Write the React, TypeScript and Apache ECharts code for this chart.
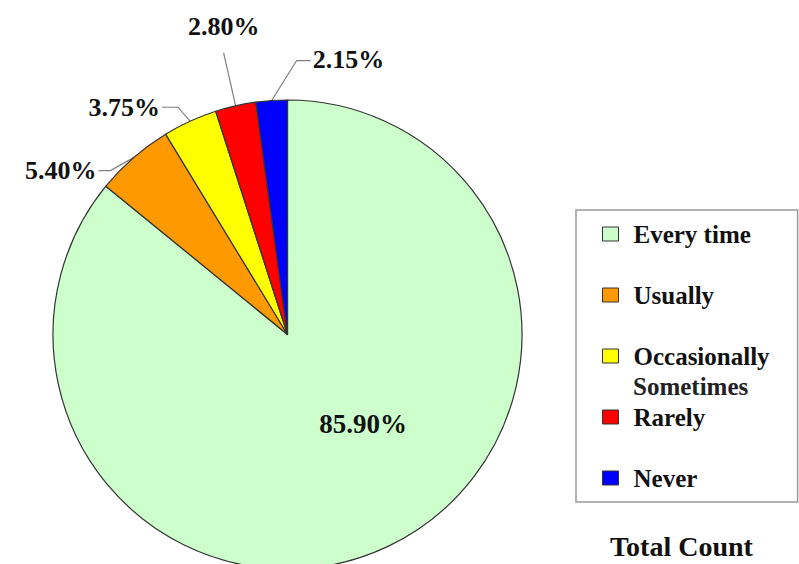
import React, { useEffect, useRef } from 'react';
import * as echarts from 'echarts';

// ---- data ----
const categories = ['Every time', 'Usually', 'Occasionally', 'Rarely', 'Never'];
const percentages = [85.9, 5.4, 3.75, 2.8, 2.15];
const sliceColors = ['#CCFFCC', '#FF9900', '#FFFF00', '#FF0000', '#0000FF'];
const legendSecondLine = 'Sometimes';
const footerTitle = 'Total Count';

const FONT = '"Liberation Serif", "Times New Roman", serif';

// label placement relative to the slice anchor the library computes
type Placement = { elbow: number[]; end: number[]; label: number[]; align: string };
const outsidePlacement: Record<number, Placement> = {
  1: { elbow: [-23, 13], end: [-35, 13], label: [-37, 13], align: 'right' },
  2: { elbow: [-12, -14], end: [-28, -14], label: [-30, -14], align: 'right' },
  3: { elbow: [-12, -53], end: [-12, -53], label: [-12, -79], align: 'center' },
  4: { elbow: [25, -40], end: [39, -40], label: [41, -41], align: 'left' },
};
const insideShift = [24, -19];

export default function App() {
  const ref = useRef<HTMLDivElement>(null);

  useEffect(() => {
    if (!ref.current) return;
    const chart = echarts.init(ref.current, undefined, { renderer: 'svg' });

    const pieData = categories.map((name, i) => ({
      name,
      value: percentages[i],
      itemStyle: { color: sliceColors[i] },
      label:
        i === 0
          ? { position: 'inside', fontSize: 27 }
          : { position: 'outside' },
      labelLine: { show: i !== 0 },
    }));

    const option: any = {
      animation: false,
      backgroundColor: '#ffffff',
      title: {
        text: footerTitle,
        left: 610,
        top: 532,
        padding: 0,
        textStyle: { fontFamily: FONT, fontWeight: 'bold', fontSize: 28, color: '#111' },
      },
      legend: {
        orient: 'vertical',
        left: 576,
        top: 210,
        padding: [11, 28, 11, 26],
        itemGap: 35,
        itemWidth: 16,
        itemHeight: 14,
        icon: 'rect',
        selectedMode: false,
        borderColor: '#9a9a9a',
        borderWidth: 1.5,
        backgroundColor: '#ffffff',
        textStyle: {
          fontFamily: FONT,
          fontWeight: 'bold',
          fontSize: 25,
          color: '#111',
          lineHeight: 26,
          padding: [0, 0, 0, 10],
        },
        itemStyle: { borderColor: '#333', borderWidth: 1 },
        data: categories,
      },
      graphic: [
        {
          type: 'text',
          z: 100,
          left: 633,
          top: 374,
          style: {
            text: legendSecondLine,
            font: 'bold 25px "Liberation Serif", "Times New Roman", serif',
            fill: '#222',
          },
        },
      ],
      series: [
        {
          type: 'pie',
          center: [287.5, 334.5],
          radius: 234.5,
          startAngle: 90,
          clockwise: true,
          avoidLabelOverlap: false,
          emphasis: { disabled: true },
          itemStyle: { borderColor: '#333', borderWidth: 1.2 },
          label: {
            show: true,
            fontFamily: FONT,
            fontWeight: 'bold',
            fontSize: 26,
            color: '#111',
            formatter: (p: any) => `${Number(p.value).toFixed(2)}%`,
          },
          labelLine: {
            show: true,
            length: 10,
            length2: 10,
            lineStyle: { color: '#808080', width: 1.2 },
          },
          labelLayout: (params: any) => {
            const i = params.dataIndex;
            if (i === 0) {
              const r = params.labelRect;
              return {
                x: r.x + r.width / 2 + insideShift[0],
                y: r.y + r.height / 2 + insideShift[1],
                align: 'center',
                verticalAlign: 'middle',
              };
            }
            const p = outsidePlacement[i];
            const pts = params.labelLinePoints;
            if (!pts || !p) return {};
            const a = pts[0];
            return {
              x: a[0] + p.label[0],
              y: a[1] + p.label[1],
              align: p.align,
              verticalAlign: 'middle',
              labelLinePoints: [
                [a[0], a[1]],
                [a[0] + p.elbow[0], a[1] + p.elbow[1]],
                [a[0] + p.end[0], a[1] + p.end[1]],
              ],
            };
          },
          data: pieData,
        },
      ],
    };

    chart.setOption(option);
    return () => chart.dispose();
  }, []);

  return (
    <div
      ref={ref}
      style={{ position: 'absolute', left: 0, top: 0, width: 799, height: 564 }}
    />
  );
}
